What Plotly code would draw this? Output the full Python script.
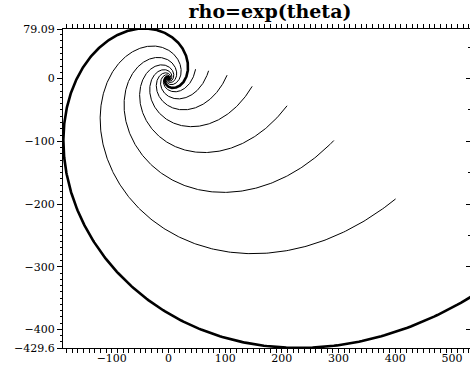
import numpy as np
import plotly.graph_objects as go

# ---- values ----
TITLE = "rho=exp(theta)"
GROWTH = 0.535
BASE_RADIUS = 30.1        # radius of thick curve at polar angle 0
CURVE_SCALES = [1.0, 0.65, 0.4225, 0.2746, 0.1785, 0.1160, 0.0754, 0.0490]
CURVE_END_DEG = [327.4, 334.4, 341.3, 348.3, 355.2, 363.0, 370.0, 377.7]
CURVE_WIDTHS = [2.6, 1, 1, 1, 1, 1, 1, 1]
X_RANGE = [-186.0, 531.8]
Y_RANGE = [-429.6, 79.09]
X_TICKS = [-100, 0, 100, 200, 300, 400, 500]
Y_TICKS = [79.09, 0, -100, -200, -300, -400, -429.6]
Y_TICK_TEXT = ["79.09", "0", "\u2212100", "\u2212200", "\u2212300", "\u2212400", "\u2212429.6"]
X_TICK_TEXT = ["\u2212100", "0", "100", "200", "300", "400", "500"]

fig = go.Figure()
for scale, end_deg, w in zip(CURVE_SCALES, CURVE_END_DEG, CURVE_WIDTHS):
    theta = np.linspace(np.radians(end_deg) - 14.0, np.radians(end_deg), 1500)
    rho = scale * BASE_RADIUS * np.exp(GROWTH * theta)
    fig.add_trace(go.Scatter(x=rho * np.cos(theta), y=rho * np.sin(theta), mode="lines",
                             line=dict(color="black", width=w), hoverinfo="skip",
                             showlegend=False))

# right-hand axis carrying only ticks
fig.add_trace(go.Scatter(x=[None], y=[None], yaxis="y2", showlegend=False))

tickfont = dict(family="DejaVu Serif", size=11, color="black")
fig.update_layout(
    width=470, height=366,
    margin=dict(l=63, r=0, t=29, b=18),
    paper_bgcolor="white", plot_bgcolor="white",
    title=dict(text="<b>" + TITLE + "</b>", x=270 / 470, xanchor="center",
               y=1 - 11 / 366, yanchor="middle",
               font=dict(family="DejaVu Serif", size=19, color="black")),
    xaxis=dict(range=X_RANGE, showgrid=False, zeroline=False, showline=True,
               automargin=False,
               linecolor="black", linewidth=1, mirror="allticks",
               tickmode="array", tickvals=X_TICKS, ticktext=X_TICK_TEXT,
               ticks="outside", ticklen=4, tickcolor="black", tickfont=tickfont,
               ticklabelstandoff=-4,
               minor=dict(tickmode="linear", tick0=0, dtick=10, ticks="outside",
                          ticklen=2, tickcolor="black")),
    yaxis=dict(range=Y_RANGE, showgrid=False, zeroline=False, showline=True,
               automargin=False,
               linecolor="black", linewidth=1,
               tickmode="array", tickvals=Y_TICKS, ticktext=Y_TICK_TEXT,
               ticks="outside", ticklen=5, tickcolor="black", tickfont=tickfont,
               minor=dict(tickmode="linear", tick0=0, dtick=10, ticks="outside",
                          ticklen=2, tickcolor="black")),
    yaxis2=dict(range=Y_RANGE, overlaying="y", side="right", showgrid=False,
                automargin=False,
                zeroline=False, showline=False, showticklabels=False,
                tickmode="linear", tick0=0, dtick=100, ticks="inside", ticklen=4,
                tickcolor="black",
                minor=dict(tickmode="linear", tick0=0, dtick=50, ticks="inside",
                           ticklen=2, tickcolor="black")),
)
fig.write_html("out.html", config={"displayModeBar": False},
               post_script="document.body.style.margin='0';document.body.style.overflow='hidden';")
